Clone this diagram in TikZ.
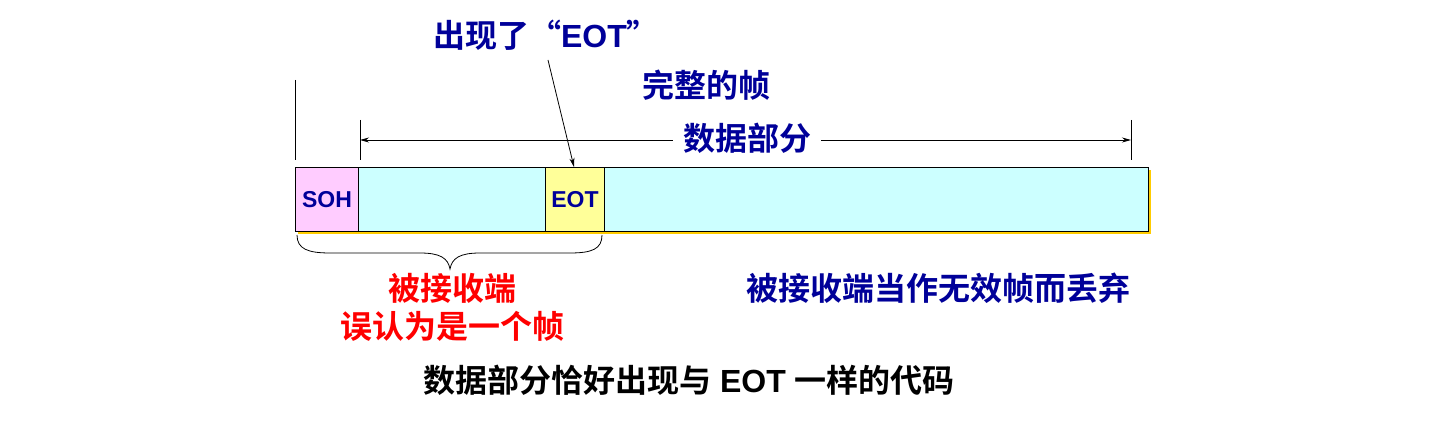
\documentclass[tikz,border=0pt]{standalone}
\usepackage{fontspec}
\setmainfont{Liberation Sans}
\newfontfamily\cjk{Noto Sans CJK SC}[BoldFont={Noto Sans CJK SC Bold}]
\usetikzlibrary{arrows.meta}
\definecolor{navy}{HTML}{000099}
\definecolor{pinkf}{HTML}{FFCCFF}
\definecolor{cyanf}{HTML}{CCFFFF}
\definecolor{yelf}{HTML}{FFFF99}
\definecolor{gold}{HTML}{FFCC00}
\tikzset{
  cell/.style={draw=black, line width=1pt, inner sep=0pt, anchor=north west, font=\fontsize{23}{27}\selectfont\bfseries, text=navy},
  lbl/.style={font=\fontsize{32}{38}\selectfont\cjk\bfseries, inner sep=0pt},
  tick/.style={line width=0.8pt},
  arr/.style={line width=0.8pt, -{Stealth[length=9pt,width=5pt]}}
}
\begin{document}
\begin{tikzpicture}[x=1pt,y=-1pt]
\useasboundingbox (0,0) rectangle (1436,427);
% shadow
\fill[gold] (298,170) rectangle (1151,234);
% cells
\node[cell, fill=pinkf, minimum width=63pt, minimum height=64pt] (soh) at (295,167) {SOH};
\node[cell, fill=cyanf, minimum width=187pt, minimum height=64pt] (d1) at (358,167) {};
\node[cell, fill=yelf, minimum width=59pt, minimum height=64pt] (eot) at (545,167) {EOT};
\node[cell, fill=cyanf, minimum width=544pt, minimum height=64pt] (d2) at (604,167) {};
% ticks
\coordinate (t0a) at (295,80); \coordinate (t0b) at (295,160);
\coordinate (t1a) at (360,120); \coordinate (t1b) at (360,160);
\coordinate (t2a) at (1131,120); \coordinate (t2b) at (1131,160);
\draw[tick] (t0a) -- (t0b);
\draw[tick] (t1a) -- (t1b);
\draw[tick] (t2a) -- (t2b);
% data arrow
\node[lbl, text=navy] (data) at (747,138) {数据部分};
\coordinate (dl) at (360,140); \coordinate (dr) at (1131,140);
\draw[arr] (data.west |- dl) ++(-10,0) -- (dl);
\draw[arr] (data.east |- dr) ++(10,0) -- (dr);
% labels
\node[lbl, text=navy] (whole) at (706,85) {完整的帧};
\node[lbl, text=navy] (appear) at (546,35) {出现了“{\fontspec{Liberation Sans}\bfseries EOT}”};
\coordinate (ap) at (548,60);
\draw[arr] (ap) -- (eot.north -| 574,0);
% brace
\draw[line width=0.8pt] (297,235) .. controls (297,249) and (308,253) .. (330,253) -- (420,253)
  .. controls (440,253) and (448,258) .. (450,269)
  .. controls (452,258) and (460,253) .. (480,253) -- (570,253)
  .. controls (592,253) and (602,249) .. (602,235);
\node[lbl, text=red] (recv1) at (452,288) {被接收端};
\node[lbl, text=red] (recv2) at (452,326) {误认为是一个帧};
\node[lbl, text=navy] (discard) at (938,288) {被接收端当作无效帧而丢弃};
\node[lbl, text=black] (bottom) at (689,380) {数据部分恰好出现与{\fontspec{Liberation Sans}\bfseries\ EOT\ }一样的代码};
\end{tikzpicture}
\end{document}
